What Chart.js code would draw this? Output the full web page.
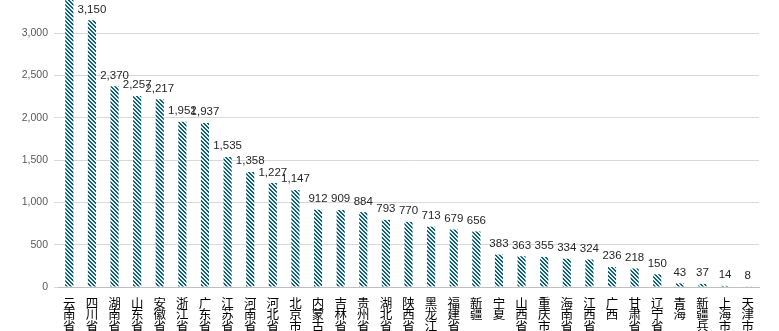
<!DOCTYPE html>
<html><head><meta charset="utf-8">
<script src="https://cdn.jsdelivr.net/npm/chart.js@4/dist/chart.umd.min.js"></script>
<style>html,body{margin:0;padding:0;background:#fff;}#wrap{width:779px;height:331px;position:relative;}</style>
</head><body><div id="wrap"><canvas id="c"></canvas></div>
<script>
const categories = ['云南省','四川省','湖南省','山东省','安徽省','浙江省','广东省','江苏省','河南省','河北省','北京市','内蒙古','吉林省','贵州省','湖北省','陕西省','黑龙江','福建省','新疆','宁夏','山西省','重庆市','海南省','江西省','广西','甘肃省','辽宁省','青海','新疆兵团','上海市','天津市'];
const values = [3600,3150,2370,2257,2217,1952,1937,1535,1358,1227,1147,912,909,884,793,770,713,679,656,383,363,355,334,324,236,218,150,43,37,14,8];
const yTicks = [0,500,1000,1500,2000,2500,3000];

function makePattern(){
  const n = 4, cv = document.createElement('canvas');
  cv.width = n; cv.height = n;
  const cx = cv.getContext('2d');
  cx.fillStyle = '#e2f5f6'; cx.fillRect(0,0,n,n);
  cx.fillStyle = '#1a5e6e';
  for (let y=0;y<n;y++) for (let x=0;x<n;x++) if (((x - y) % n + n) % n < 2) cx.fillRect(x,y,1,1);
  return document.getElementById('c').getContext('2d').createPattern(cv,'repeat');
}

const labelPlugin = {
  id:'vlabels',
  afterDatasetsDraw(chart){
    const ctx = chart.ctx, meta = chart.getDatasetMeta(0);
    ctx.save();
    ctx.font = '11.5px "Liberation Sans", Arial, sans-serif';
    ctx.fillStyle = '#262626'; ctx.textAlign = 'center'; ctx.textBaseline = 'bottom';
    meta.data.forEach((bar,i)=>{
      const y = bar.y - 5;
      if (y < 12) return;
      ctx.fillText(values[i].toLocaleString('en-US'), bar.x, y);
    });
    ctx.restore();
  }
};

new Chart(document.getElementById('c'), {
  type:'bar',
  data:{ labels: categories.map(s=>s.split('')), datasets:[{ data: values, backgroundColor: makePattern(), borderWidth:0, barPercentage:0.36, categoryPercentage:1 }]},
  options:{
    responsive:true, maintainAspectRatio:false, animation:false,
    layout:{ padding:{ top:0, right:20, left:0, bottom:0 } },
    plugins:{ legend:{display:false}, tooltip:{enabled:false} },
    scales:{
      x:{
        grid:{ display:false },
        border:{ display:true, color:'#bfbfbf' },
        ticks:{ color:'#000', maxRotation:0, minRotation:0, autoSkip:false, padding:2,
          font:{ family:'"Noto Sans CJK SC", sans-serif', size:12.5, lineHeight:0.92 } },
        afterFit(s){ s.height = 44; s.paddingLeft = 0; s.paddingRight = 0; }
      },
      y:{
        min:0, max:3390,
        afterBuildTicks(s){ s.ticks = yTicks.map(v=>({value:v})); },
        grid:{ color:'#d9d9d9', tickLength:4, tickColor:'#d9d9d9' },
        border:{ display:false },
        ticks:{ color:'#595959', padding:6, font:{ family:'"Liberation Sans", Arial, sans-serif', size:10.5 },
          callback:v=>v.toLocaleString('en-US') },
        afterFit(s){ s.width = 58; s.paddingTop = 0; s.paddingBottom = 0; }
      }
    }
  },
  plugins:[labelPlugin]
});
</script></body></html>
